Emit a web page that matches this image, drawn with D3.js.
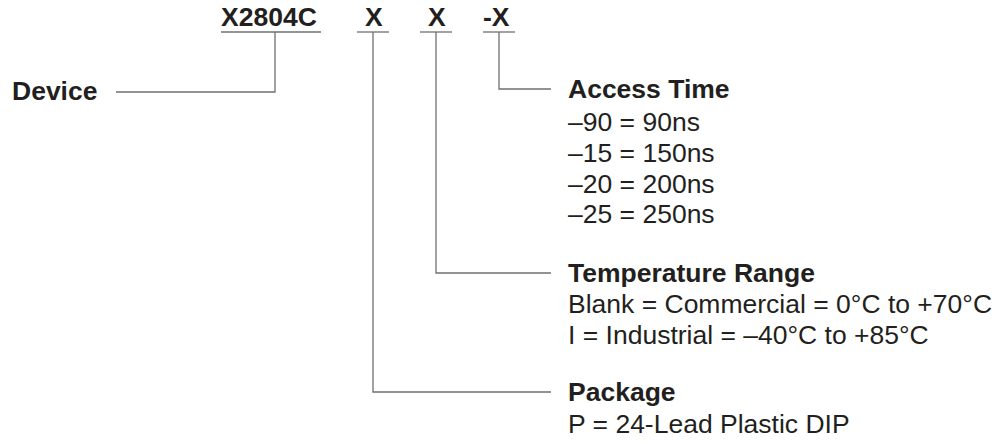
<!DOCTYPE html>
<html>
<head>
    <script src="https://d3js.org/d3.v7.min.js"></script>
    <style>
        body { margin: 0; background: #fff; }
        text { font-family: "Liberation Sans", Arial, Helvetica, sans-serif; fill: #231f20; }
        .bold { font-weight: bold; }
        .lead { fill: none; stroke: #707070; stroke-width: 1.3px; }
    </style>
</head>
<body>
    <svg width="1003" height="444"></svg>
    <script>
        // part number fields, left to right
        var codes = ["X2804C", "X", "X", "-X"];
        var fieldNames = ["Device", "Package", "Temperature Range", "Access Time"];

        var accessOptions = ["\u201390 = 90ns", "\u201315 = 150ns", "\u201320 = 200ns", "\u201325 = 250ns"];
        var tempOptions = ["Blank = Commercial = 0\u00b0C to +70\u00b0C", "I = Industrial = \u201340\u00b0C to +85\u00b0C"];
        var packageOptions = ["P = 24-Lead Plastic DIP"];

        var svg = d3.select("svg");
        var fontSize = 26.5;

        // layout of the code row: text x, underline extent, drop line x
        var codeLayout = [
            {tx: 221, u0: 221, u1: 321, drop: 275},
            {tx: 365, u0: 357, u1: 389, drop: 373},
            {tx: 428, u0: 420, u1: 452, drop: 436},
            {tx: 483, u0: 483, u1: 515, drop: 499}
        ];
        var codeBaseline = 26, underlineY = 32;

        var codeRow = svg.append("g");
        codes.forEach(function(c, i) {
            var l = codeLayout[i];
            codeRow.append("text")
                .attr("class", "bold")
                .attr("x", l.tx)
                .attr("y", codeBaseline)
                .attr("font-size", fontSize)
                .text(c);
            codeRow.append("line")
                .attr("class", "lead")
                .attr("x1", l.u0).attr("x2", l.u1)
                .attr("y1", underlineY).attr("y2", underlineY);
        });

        // blocks on the right, each with its own rows
        var textX = 568, lineEnd = 551;
        var rowStep = d3.scaleLinear().domain([0, 1]).range([0, 30.8]);

        var blocks = [
            {field: 3, titleY: 98, firstY: 131, options: accessOptions},
            {field: 2, titleY: 282, firstY: 313, options: tempOptions},
            {field: 1, titleY: 401, firstY: 433, options: packageOptions}
        ];

        blocks.forEach(function(b) {
            var lineY = b.titleY - 9;
            var dropX = codeLayout[b.field].drop;
            svg.append("path")
                .attr("class", "lead")
                .attr("d", d3.line()([[dropX, underlineY], [dropX, lineY], [lineEnd, lineY]]));
            svg.append("text")
                .attr("class", "bold")
                .attr("x", textX)
                .attr("y", b.titleY)
                .attr("font-size", fontSize)
                .text(fieldNames[b.field]);
            svg.selectAll(null)
                .data(b.options)
                .enter().append("text")
                .attr("x", textX)
                .attr("y", function(d, i) { return b.firstY + rowStep(i); })
                .attr("font-size", fontSize)
                .text(function(d) { return d; });
        });

        // device label on the left
        var deviceY = 92;
        svg.append("path")
            .attr("class", "lead")
            .attr("d", d3.line()([[codeLayout[0].drop, underlineY], [codeLayout[0].drop, deviceY], [116, deviceY]]));
        svg.append("text")
            .attr("class", "bold")
            .attr("x", 12)
            .attr("y", 100)
            .attr("font-size", fontSize)
            .text(fieldNames[0]);
    </script>
</body>
</html>
